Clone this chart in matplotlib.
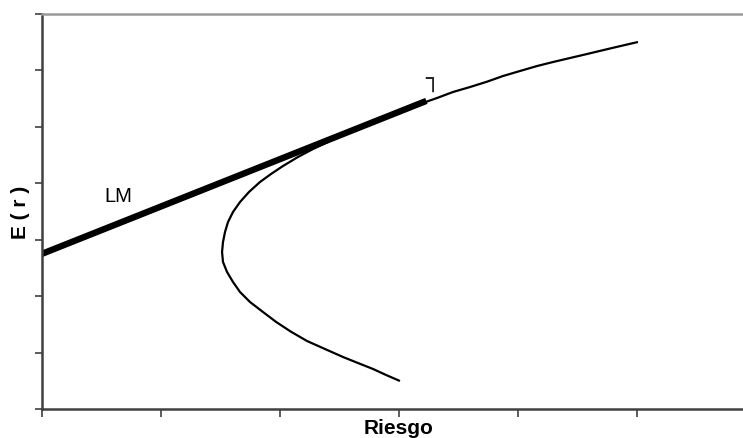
import matplotlib
matplotlib.use("Agg")
import matplotlib.pyplot as plt

plt.rcParams['font.family'] = ['Liberation Sans', 'DejaVu Sans']

# Efficient frontier (risk, expected return)
frontier_risk = [3.008, 2.891, 2.782, 2.655, 2.529, 2.378, 2.227, 2.092, 1.968,
                 1.857, 1.748, 1.664, 1.605, 1.555, 1.521, 1.513, 1.521, 1.538,
                 1.563, 1.605, 1.664, 1.739, 1.832, 1.924, 2.025, 2.151, 2.277,
                 2.420, 2.588, 2.756, 2.924, 3.176, 3.319, 3.454, 3.597, 3.739,
                 3.874, 4.017, 4.160, 4.294, 4.437, 4.580, 4.790, 5.008]
frontier_ret = [0.496, 0.603, 0.709, 0.815, 0.922, 1.063, 1.205, 1.370, 1.542,
                1.719, 1.896, 2.073, 2.251, 2.428, 2.605, 2.782, 2.959, 3.137,
                3.314, 3.491, 3.668, 3.845, 4.023, 4.164, 4.306, 4.466, 4.607,
                4.749, 4.909, 5.050, 5.192, 5.405, 5.511, 5.618, 5.706, 5.800,
                5.901, 5.990, 6.078, 6.149, 6.220, 6.291, 6.397, 6.504]

# Capital market line (LM)
lm_risk = [0.0, 3.23]
lm_ret = [2.75, 5.46]

x_ticks = [0, 1, 2, 3, 4, 5, 6]
y_ticks = [0, 1, 2, 3, 4, 5, 6, 7]

fig = plt.figure(figsize=(7.43, 4.39), dpi=100)
ax = fig.add_axes([42/743, 29/439, 714/743, 395/439])

ax.plot(frontier_risk, frontier_ret, color='black', lw=1.6,
        solid_capstyle='butt', solid_joinstyle='round')
ax.plot(lm_risk, lm_ret, color='black', lw=4.6, solid_capstyle='butt')

ax.set_xlim(0, 6)
ax.set_ylim(0, 7)
ax.set_xticks(x_ticks)
ax.set_yticks(y_ticks)
ax.set_xticklabels([])
ax.set_yticklabels([])
ax.tick_params(axis='both', direction='out', color='#404040', width=1.2)
ax.tick_params(axis='y', length=5)
ax.tick_params(axis='x', length=6)

for side in ['left', 'bottom']:
    ax.spines[side].set_color('#404040')
    ax.spines[side].set_linewidth(1.8)
ax.spines['top'].set_color('#9a9a9a')
ax.spines['top'].set_linewidth(1.8)
ax.spines['right'].set_visible(False)

ax.text(0.64, 3.69, 'LM', fontsize=14.5, ha='center', va='baseline')
ax.text(3.22, 5.75, '┐', fontsize=17, ha='left', va='baseline',
        family=['DejaVu Sans'], alpha=0.85)

fig.text(399/743, 1 - 434/439, 'Riesgo', fontsize=15, fontweight='bold',
         ha='center', va='baseline')
fig.text(20/743, 1 - 212/439, 'E ( r )', fontsize=15, fontweight='bold',
         ha='center', va='center', rotation=90)

fig.savefig('out.png', dpi=100)
